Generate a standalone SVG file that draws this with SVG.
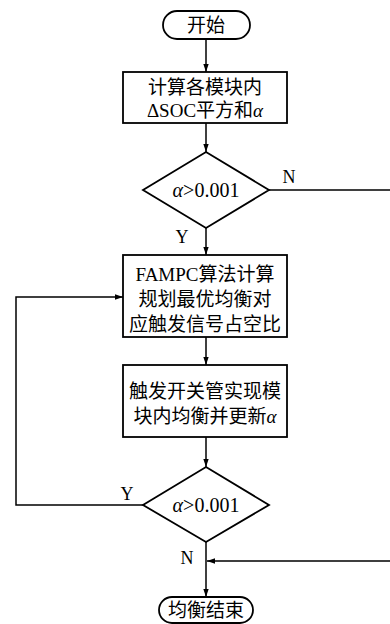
<svg xmlns="http://www.w3.org/2000/svg" width="390" height="624" viewBox="0 0 390 624">
<style>
.shape{fill:#fff;stroke:#000;stroke-width:1.8}
.line{fill:none;stroke:#000;stroke-width:1.5}
text{font-family:"Liberation Serif","Noto Sans CJK SC",serif;font-size:19px;fill:#000;text-anchor:middle}
.lbl{font-size:18px}
.cond{font-size:20px}
.it{font-style:italic}
</style>
<defs>
<marker id="ah" markerWidth="8" markerHeight="12" refX="12" refY="4" viewBox="0 0 12 8" orient="auto" markerUnits="userSpaceOnUse">
<path d="M0,0 L12,4 L0,8 Z" fill="#000"/>
</marker>
</defs>
<rect width="390" height="624" fill="#fff"/>
<g id="connectors">
<path class="line" d="M206,39 V72" marker-end="url(#ah)"/>
<path class="line" d="M206,123 V152" marker-end="url(#ah)"/>
<path class="line" d="M206,228 V255" marker-end="url(#ah)"/>
<path class="line" d="M269,190 H392 V561 H207" marker-end="url(#ah)"/>
<path class="line" d="M206,337 V365" marker-end="url(#ah)"/>
<path class="line" d="M206,437 V467" marker-end="url(#ah)"/>
<path class="line" d="M143,505 H16 V297 H123" marker-end="url(#ah)"/>
<path class="line" d="M206,542 V597" marker-end="url(#ah)"/>
<text class="lbl" x="289" y="183">N</text>
<text class="lbl" x="182" y="243">Y</text>
<text class="lbl" x="127" y="500">Y</text>
<text class="lbl" x="187" y="564">N</text>
</g>
<g id="start">
<rect class="shape" x="163" y="11" width="87" height="28" rx="14"/>
<text x="206" y="32">开始</text>
</g>
<g id="box1">
<rect class="shape" x="123" y="72" width="164" height="51"/>
<text x="205" y="94">计算各模块内</text>
<text x="205" y="117">ΔSOC平方和<tspan class="it">α</tspan></text>
</g>
<g id="dec1">
<polygon class="shape" points="206,152 269,190 206,228 143,190"/>
<text class="cond" x="206" y="197"><tspan class="it">α</tspan>&gt;0.001</text>
</g>
<g id="box2">
<rect class="shape" x="123" y="255" width="164" height="82"/>
<text x="205" y="281">FAMPC算法计算</text>
<text x="205" y="306">规划最优均衡对</text>
<text x="205" y="331">应触发信号占空比</text>
</g>
<g id="box3">
<rect class="shape" x="123" y="365" width="164" height="72"/>
<text x="205" y="398">触发开关管实现模</text>
<text x="205" y="423">块内均衡并更新<tspan class="it">α</tspan></text>
</g>
<g id="dec2">
<polygon class="shape" points="206,467 269,505 206,542 143,505"/>
<text class="cond" x="206" y="512"><tspan class="it">α</tspan>&gt;0.001</text>
</g>
<g id="end">
<rect class="shape" x="159" y="597" width="94" height="26" rx="13"/>
<text x="206" y="617">均衡结束</text>
</g>
</svg>
